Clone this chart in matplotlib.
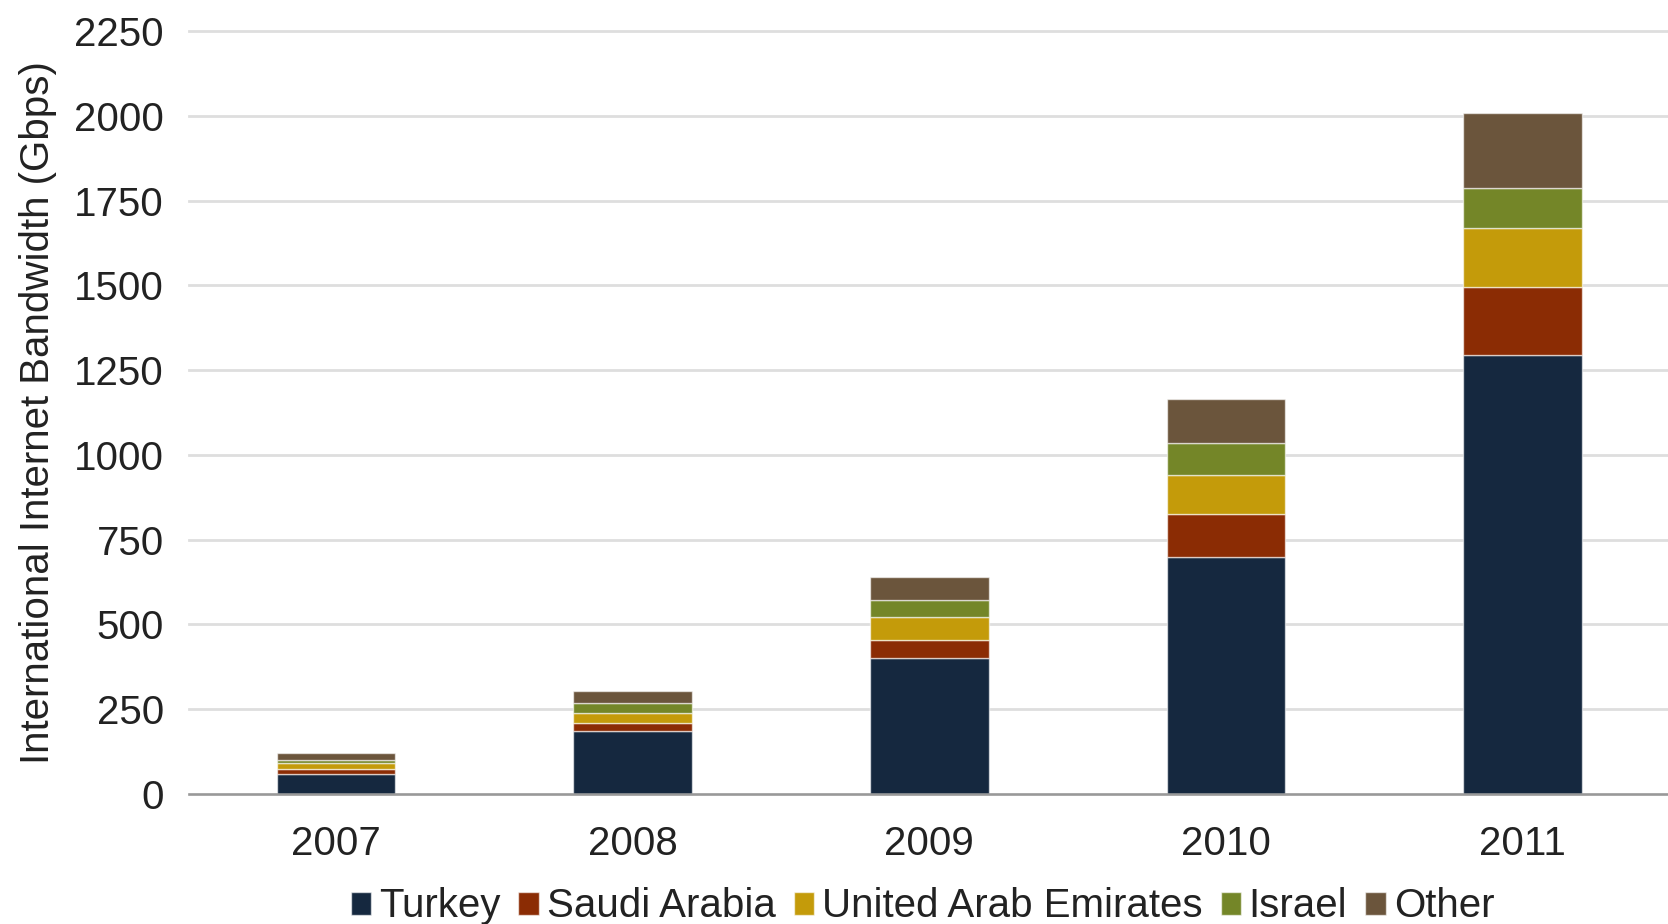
import matplotlib
matplotlib.use("Agg")
import matplotlib.pyplot as plt
import numpy as np

years = ["2007", "2008", "2009", "2010", "2011"]
series_names = ["Turkey", "Saudi Arabia", "United Arab Emirates", "Israel", "Other"]
turkey = [59, 186, 400, 700, 1295]
saudi = [15, 22, 55, 125, 200]
uae = [17, 32, 68, 117, 173]
israel = [10, 29, 50, 93, 120]
other = [19, 35, 68, 131, 220]
colors = ["#15283f", "#8b2c04", "#c49b0a", "#748628", "#6b553c"]
yticks = [0, 250, 500, 750, 1000, 1250, 1500, 1750, 2000, 2250]

plt.rcParams['font.family'] = ['Liberation Sans', 'DejaVu Sans']

fig = plt.figure(figsize=(16.68, 9.24), dpi=100)
ax = fig.add_axes([0.1133, 0.1407, 0.8867, 0.8258])

x = np.arange(len(years))
bottom = np.zeros(len(years))
for name, vals, c in zip(series_names, [turkey, saudi, uae, israel, other], colors):
    ax.bar(x, vals, width=0.4, bottom=bottom, color=c, label=name,
           edgecolor=(1, 1, 1, 0.6), linewidth=1.0, zorder=3)
    bottom += np.array(vals)

ax.set_xlim(-0.495, 4.49)
ax.set_ylim(0, 2250)
ax.set_yticks(yticks)
ax.set_yticklabels([str(v) for v in yticks])
ax.set_xticks(x)
ax.set_xticklabels(years)
ax.tick_params(axis='both', length=0, labelsize=29, colors="#222222")
ax.tick_params(axis='y', pad=18)
ax.tick_params(axis='x', pad=22)

ax.grid(axis='y', color="#dedede", linewidth=2, zorder=0)
for g in ax.get_ygridlines():
    g.set_clip_on(False)
for s in ["top", "right", "left"]:
    ax.spines[s].set_visible(False)
ax.spines["bottom"].set_color("#999999")
ax.spines["bottom"].set_linewidth(1.8)
ax.spines["bottom"].set_zorder(4)

ax.set_ylabel("International Internet Bandwidth (Gbps)", fontsize=29, color="#222222", labelpad=12)

leg = fig.legend(loc="center", bbox_to_anchor=(0.553, 0.019), ncol=5, frameon=False,
                 fontsize=29, handlelength=0.5, handleheight=0.5, handletextpad=0.2,
                 columnspacing=0.45, labelcolor="#222222")

fig.savefig("out.png", dpi=100)
